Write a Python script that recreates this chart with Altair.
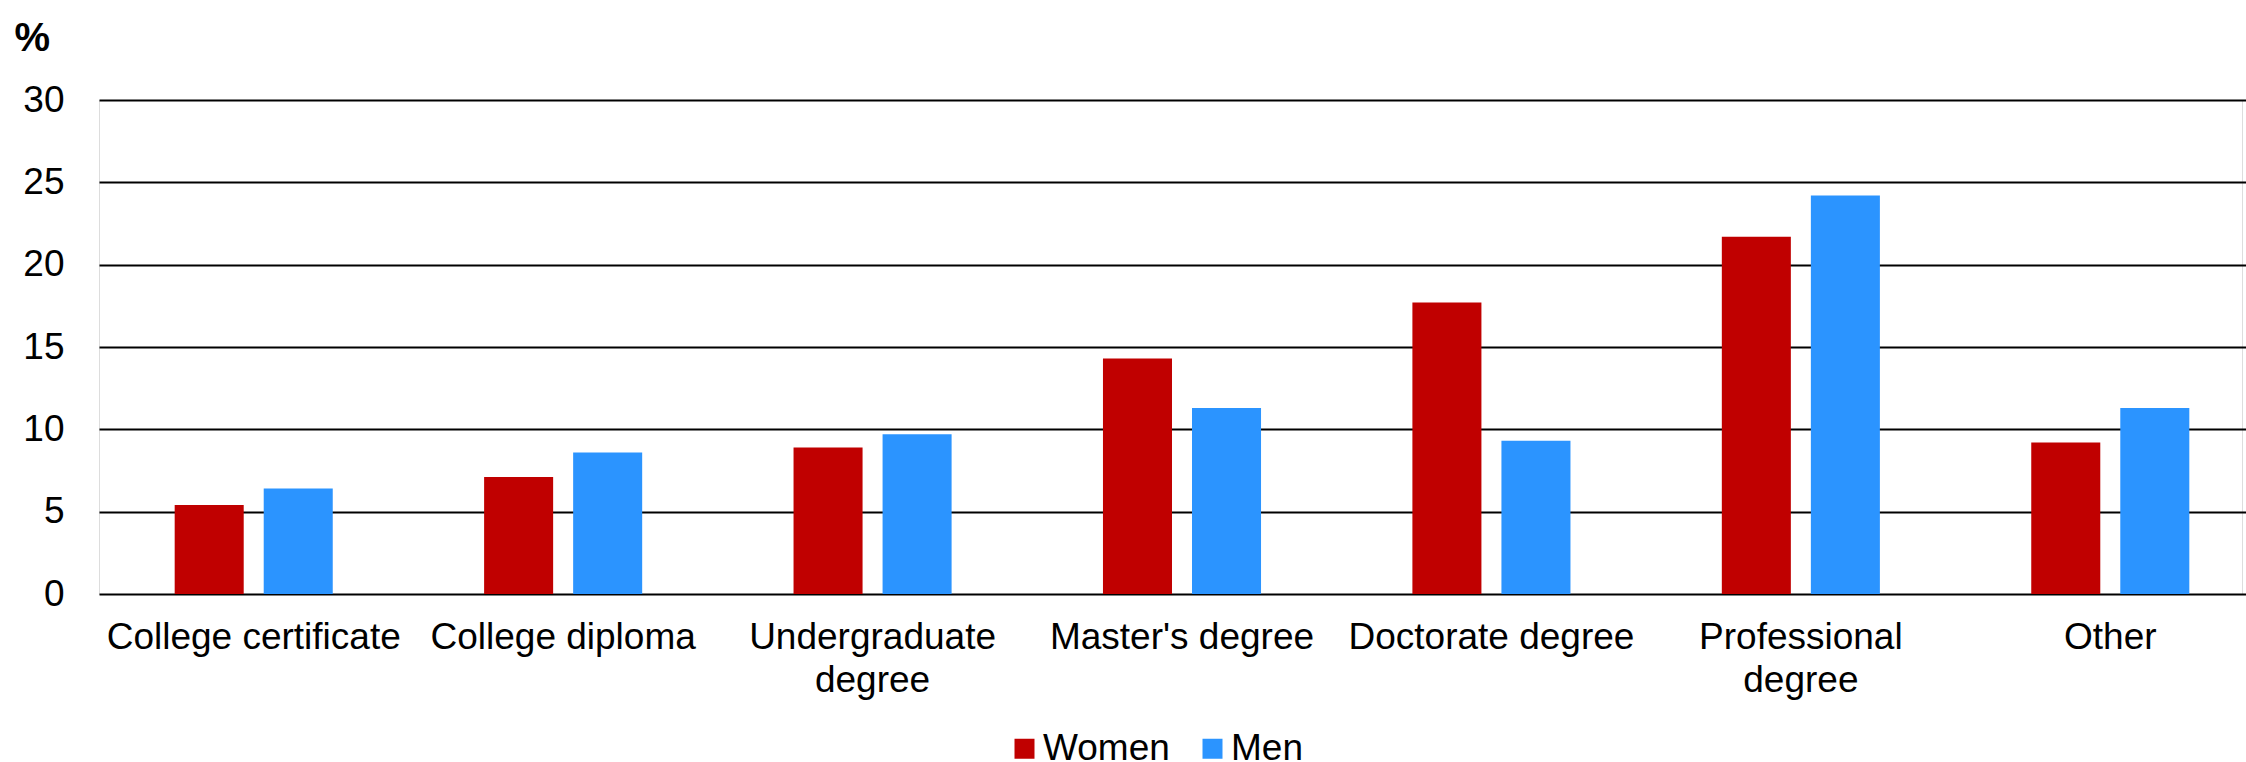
import altair as alt
import pandas as pd

FONT = "Liberation Sans"

# Chart data: share (%) by highest credential and sex
categories = [
    "College certificate",
    "College diploma",
    "Undergraduate degree",
    "Master's degree",
    "Doctorate degree",
    "Professional degree",
    "Other",
]
women = [5.4, 7.1, 8.9, 14.3, 17.7, 21.7, 9.2]
men = [6.4, 8.6, 9.7, 11.3, 9.3, 24.2, 11.3]
series = ["Women", "Men"]
colors = ["#C00000", "#2B94FF"]
y_ticks = [0, 5, 10, 15, 20, 25, 30]

# Two-line tick labels
wrapped = {
    "Undergraduate degree": ["Undergraduate", "degree"],
    "Professional degree": ["Professional", "degree"],
}

rows = []
for cat, w, m in zip(categories, women, men):
    rows.append({"category": cat, "sex": "Women", "value": w})
    rows.append({"category": cat, "sex": "Men", "value": m})
df = pd.DataFrame(rows)

label_expr = "datum.label"
for k, parts in wrapped.items():
    arr = "[" + ", ".join("'" + p + "'" for p in parts) + "]"
    label_expr = f"datum.label == \"{k}\" ? {arr} : ({label_expr})"

chart = (
    alt.Chart(df)
    .mark_bar(strokeWidth=0)
    .encode(
        x=alt.X(
            "category:N",
            sort=categories,
            scale=alt.Scale(range=[0, 2166], paddingInner=0, paddingOuter=0),
            axis=alt.Axis(
                title=None,
                labelAngle=0,
                domain=False,
                ticks=False,
                grid=False,
                labelPadding=25,
                labelFontSize=37,
                labelLineHeight=43,
                labelColor="black",
                labelFont=FONT,
                labelLimit=0,
                labelExpr=label_expr,
            ),
        ),
        xOffset=alt.XOffset(
            "sex:N",
            sort=series,
            scale=alt.Scale(paddingInner=0.2247, paddingOuter=0.85),
        ),
        y=alt.Y(
            "value:Q",
            scale=alt.Scale(domain=[0, 30], nice=False),
            axis=alt.Axis(
                values=y_ticks,
                title="%",
                titleAngle=0,
                titleX=-85,
                titleY=-50,
                titleAlign="left",
                titleBaseline="alphabetic",
                titleFontSize=40,
                titleFontWeight="bold",
                titleFont=FONT,
                titleColor="black",
                domain=False,
                ticks=False,
                grid=True,
                gridColor="black",
                gridWidth=2,
                gridOpacity=1,
                labelFontSize=37,
                labelPadding=35,
                labelColor="black",
                labelFont=FONT,
            ),
        ),
        color=alt.Color(
            "sex:N",
            sort=series,
            scale=alt.Scale(domain=series, range=colors),
            legend=alt.Legend(
                title=None,
                orient="none",
                legendX=907,
                legendY=630,
                direction="horizontal",
                symbolType="square",
                symbolSize=400,
                symbolStrokeWidth=0,
                labelFontSize=37,
                labelFont=FONT,
                labelColor="black",
                labelOffset=0,
                columnPadding=24,
                padding=0,
            ),
        ),
    )
    .properties(
        width=2143,
        height=494,
        autosize=alt.AutoSizeParams(type="none"),
        padding={"left": 99, "top": 100, "right": 4, "bottom": 168},
    )
    .configure_view(stroke=None)
    .configure(font=FONT)
)

chart.save("out.html", embed_options={"renderer": "svg", "actions": False})
